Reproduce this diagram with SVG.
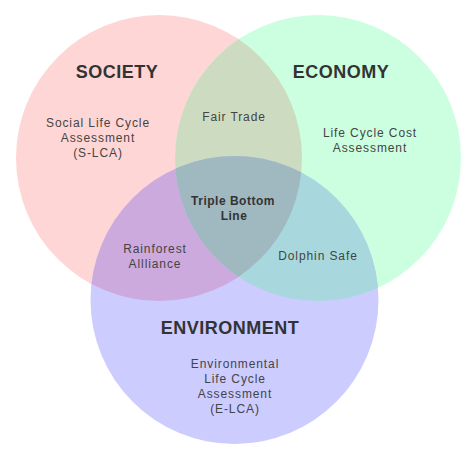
<svg xmlns="http://www.w3.org/2000/svg" width="474" height="456" viewBox="0 0 474 456">
<style>
.t{font-family:"Liberation Sans",Arial,sans-serif;font-weight:bold;font-size:18px;fill:#333;text-anchor:middle;letter-spacing:0.5px}
.b{font-family:"Liberation Sans",Arial,sans-serif;font-size:12px;fill:#444;text-anchor:middle;letter-spacing:0.9px}
.bb{font-family:"Liberation Sans",Arial,sans-serif;font-size:12px;font-weight:bold;fill:#333;text-anchor:middle;letter-spacing:0.5px}
</style>
<defs>
<clipPath id="cS"><circle cx="159" cy="158" r="143"/></clipPath>
<clipPath id="cE"><circle cx="318" cy="158" r="143"/></clipPath>
</defs>
<rect width="474" height="456" fill="#fff"/>
<g id="society-circle"><circle cx="159" cy="158" r="143" fill="#ffd6d6"/></g>
<g id="economy-circle"><circle cx="318" cy="158" r="143" fill="#ccffe0"/></g>
<g id="environment-circle"><circle cx="234.5" cy="300" r="144" fill="#ccccff"/></g>
<g id="overlaps">
<circle cx="318" cy="158" r="143" fill="#cddcc0" clip-path="url(#cS)"/>
<circle cx="234.5" cy="300" r="144" fill="#ccaadd" clip-path="url(#cS)"/>
<circle cx="234.5" cy="300" r="144" fill="#a8d8dd" clip-path="url(#cE)"/>
<g clip-path="url(#cS)"><circle cx="234.5" cy="300" r="144" fill="#a0b8c0" clip-path="url(#cE)"/></g>
</g>
<g id="society">
<text class="t" x="117" y="78">SOCIETY</text>
<text class="b" x="98" y="127">Social Life Cycle</text>
<text class="b" x="98" y="142">Assessment</text>
<text class="b" x="98" y="157">(S-LCA)</text>
</g>
<g id="economy">
<text class="t" x="341" y="78">ECONOMY</text>
<text class="b" x="370" y="137">Life Cycle Cost</text>
<text class="b" x="370" y="152">Assessment</text>
</g>
<g id="environment">
<text class="t" x="230" y="334">ENVIRONMENT</text>
<text class="b" x="235" y="368">Environmental</text>
<text class="b" x="235" y="383">Life Cycle</text>
<text class="b" x="235" y="398">Assessment</text>
<text class="b" x="235" y="413">(E-LCA)</text>
</g>
<g id="fair-trade"><text class="b" x="234" y="121">Fair Trade</text></g>
<g id="triple-bottom-line">
<text class="bb" x="233" y="205">Triple Bottom</text>
<text class="bb" x="234" y="220">Line</text>
</g>
<g id="rainforest-alliance">
<text class="b" x="155" y="253">Rainforest</text>
<text class="b" x="155" y="268">Allliance</text>
</g>
<g id="dolphin-safe"><text class="b" x="318" y="260">Dolphin Safe</text></g>
</svg>
